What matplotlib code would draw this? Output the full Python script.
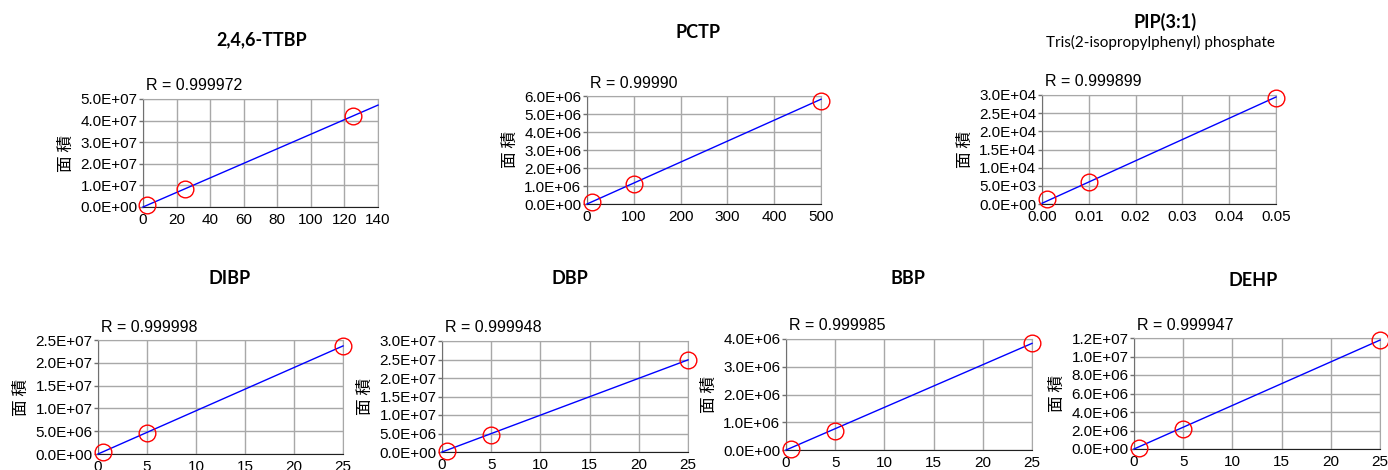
import matplotlib
matplotlib.use("Agg")
import matplotlib.pyplot as plt
from matplotlib.ticker import FuncFormatter, MultipleLocator

plt.rcParams['font.family'] = ['Liberation Sans', 'Noto Sans CJK JP', 'DejaVu Sans']

# ---- data ----
names = ["2,4,6-TTBP", "PCTP", "PIP(3:1)", "DIBP", "DBP", "BBP", "DEHP"]
subtitles = ["", "", "Tris(2-isopropylphenyl) phosphate", "", "", "", ""]
r_values = ["R = 0.999972", "R = 0.99990", "R = 0.999899", "R = 0.999998",
            "R = 0.999948", "R = 0.999985", "R = 0.999947"]

x_ttbp = [2.5, 25, 125]
y_ttbp = [8.5e5, 8.3e6, 4.19e7]
x_pctp = [10, 100, 500]
y_pctp = [1.1e5, 1.11e6, 5.74e6]
x_pip = [0.001, 0.01, 0.05]
y_pip = [1300, 6000, 29300]
x_dibp = [0.5, 5, 25]
y_dibp = [4.0e5, 4.68e6, 2.37e7]
x_dbp = [0.5, 5, 25]
y_dbp = [3.5e5, 4.49e6, 2.49e7]
x_bbp = [0.5, 5, 25]
y_bbp = [5.0e4, 7.0e5, 3.85e6]
x_dehp = [0.5, 5, 25]
y_dehp = [1.5e5, 2.13e6, 1.176e7]

xs = [x_ttbp, x_pctp, x_pip, x_dibp, x_dbp, x_bbp, x_dehp]
ys = [y_ttbp, y_pctp, y_pip, y_dibp, y_dbp, y_bbp, y_dehp]

# fitted calibration lines (slope, intercept)
slopes = [3.37e5, 1.164e4, 5.85e5, 9.48e5, 9.96e5, 1.537e5, 4.71e5]
intercepts = [0.0, 0.0, 200.0, 0.0, 0.0, 0.0, 0.0]

x_max = [140, 500, 0.05, 25, 25, 25, 25]
x_step = [20, 100, 0.01, 5, 5, 5, 5]
y_max = [5e7, 6e6, 3e4, 2.5e7, 3e7, 4e6, 1.2e7]
y_step = [1e7, 1e6, 5e3, 5e6, 5e6, 1e6, 2e6]
x_fmt = ["{:.0f}", "{:.0f}", "{:.2f}", "{:.0f}", "{:.0f}", "{:.0f}", "{:.0f}"]

# ---- layout (pixels: left, right, top, bottom) ----
W, H = 1388, 470
boxes = [(143, 378, 99, 207), (587, 821, 96, 204), (1042, 1276, 95, 204),
         (98, 343, 340, 454), (442, 688, 341, 452), (786, 1032, 339, 450),
         (1134, 1380, 338, 449)]
title_pos = [(262, 40), (698, 33), (1165, 22), (230, 279), (570, 279), (908, 279), (1253, 281)]

fig = plt.figure(figsize=(W / 100, H / 100), dpi=100)

for i in range(7):
    l, r, t, b = boxes[i]
    ax = fig.add_axes([l / W, 1 - b / H, (r - l) / W, (b - t) / H])
    ax.set_xlim(0, x_max[i])
    ax.set_ylim(0, y_max[i])
    ax.xaxis.set_major_locator(MultipleLocator(x_step[i]))
    ax.yaxis.set_major_locator(MultipleLocator(y_step[i]))
    fx = x_fmt[i]
    ax.xaxis.set_major_formatter(FuncFormatter(lambda v, p, fx=fx: fx.format(v)))
    ax.yaxis.set_major_formatter(FuncFormatter(lambda v, p: "{:.1E}".format(v)))
    ax.grid(True, color="#a8a8a8", linewidth=1.0)
    ax.set_axisbelow(True)
    for s in ["top", "right"]:
        ax.spines[s].set_color("#a8a8a8")
    ax.spines["left"].set_color("#707070")
    ax.spines["bottom"].set_color("#202020")
    ax.tick_params(axis="y", direction="out", length=3, width=1, color="#707070",
                   labelsize=11, pad=1)
    ax.tick_params(axis="x", direction="out", length=0, labelsize=11, pad=4)

    # calibration line
    xl = [0, x_max[i]]
    yl = [intercepts[i] + slopes[i] * v for v in xl]
    ax.plot(xl, yl, color="#0000ff", linewidth=1.0, zorder=3, clip_on=False)
    ax.plot(xs[i], ys[i], linestyle="none", marker="o", markersize=12,
            markerfacecolor="none", markeredgecolor="#ff0000", markeredgewidth=1.0,
            zorder=4, clip_on=False)

    ax.set_ylabel("面 積", family=["Noto Sans CJK JP", "DejaVu Sans"], fontsize=12,
                  labelpad=4)
    ax.text(l / W + 3 / W, 1 - (t - 13) / H, r_values[i], transform=fig.transFigure,
            fontsize=11.5, ha="left", va="center")

    tx, ty = title_pos[i]
    fig.text(tx / W, 1 - ty / H, names[i], family=["Lato", "DejaVu Sans"],
             fontweight="bold", fontsize=13, ha="center", va="center")
    if subtitles[i]:
        fig.text(1160 / W, 1 - 42 / H, subtitles[i], family=["Lato", "DejaVu Sans"],
                 fontsize=11, ha="center", va="center")

fig.savefig("out.png", dpi=100)
